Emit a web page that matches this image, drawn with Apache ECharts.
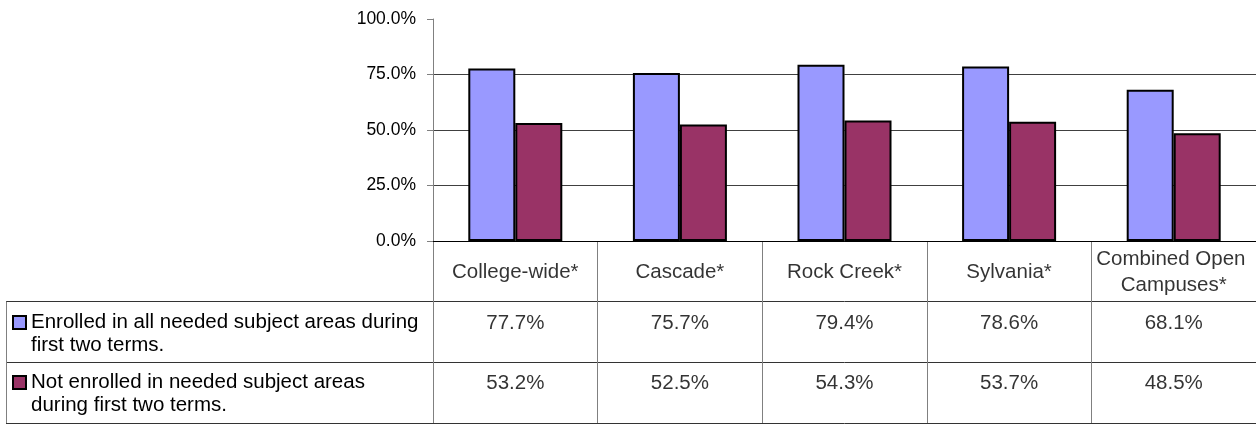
<!DOCTYPE html>
<html>
<head>
<meta charset="utf-8">
<script src="https://cdn.jsdelivr.net/npm/echarts@6/dist/echarts.min.js"></script>
<style>
  html, body { margin: 0; padding: 0; background: #fff; }
  #chart { width: 1256px; height: 424px; }
</style>
</head>
<body>
<div id="chart"></div>
<script>
const categories = ['College-wide*', 'Cascade*', 'Rock Creek*', 'Sylvania*', 'Combined Open Campuses*'];
const seriesNames = [
  'Enrolled in all needed subject areas during first two terms.',
  'Not enrolled in needed subject areas during first two terms.'
];
// legend labels as they wrap in the table's first column
const legendLabels = [
  'Enrolled in all needed subject areas during\nfirst two terms.',
  'Not enrolled in needed subject areas\nduring first two terms.'
];
const enrolled = [77.7, 75.7, 79.4, 78.6, 68.1];
const notEnrolled = [53.2, 52.5, 54.3, 53.7, 48.5];
const yMin = 0, yMax = 100, yInterval = 25;
const tableRows = ['header', 'row1', 'row2'];
const legendRows = ['row1', 'row2'];

const FONT = "'Liberation Sans', Arial, sans-serif";
const TABLE_FS = 20.5;
const colors = ['#9999FF', '#993366'];

const headerCells = categories.map((c, i) => [i, 'header', c]);
const valueCells = [];
enrolled.forEach((v, i) => valueCells.push([i, 'row1', v.toFixed(1) + '%']));
notEnrolled.forEach((v, i) => valueCells.push([i, 'row2', v.toFixed(1) + '%']));

const chart = echarts.init(document.getElementById('chart'), null, { renderer: 'canvas' });

const legendCommon = {
  orient: 'vertical',
  left: 12,
  padding: 0,
  itemWidth: 13,
  itemHeight: 13,
  itemGap: 0,
  icon: 'rect',
  selectedMode: false,
  formatter: name => '\n' + legendLabels[seriesNames.indexOf(name)],
  textStyle: {
    fontFamily: FONT, fontSize: TABLE_FS, color: '#000', lineHeight: 23
  }
};

chart.setOption({
  animation: false,
  backgroundColor: '#fff',
  textStyle: { fontFamily: FONT },
  legend: [
    Object.assign({}, legendCommon, { data: [seriesNames[0]], top: 288 }),
    Object.assign({}, legendCommon, { data: [seriesNames[1]], top: 348 })
  ],
  grid: [
    { left: 433, right: 0, top: 19, height: 222 },
    { left: 433, right: 0, top: 241, height: 182 },
    { left: 6, width: 427, top: 241 + 182 / 3, height: 182 * 2 / 3 }
  ],
  xAxis: [
    {
      type: 'category', gridIndex: 0, data: categories,
      axisLine: { lineStyle: { color: '#000', width: 1 } },
      axisTick: { show: false }, axisLabel: { show: false }, splitLine: { show: false }
    },
    {
      type: 'category', gridIndex: 1, data: categories,
      axisLine: { show: false }, axisTick: { show: false },
      axisLabel: { show: false, interval: 0 },
      splitLine: { show: true, interval: 0, lineStyle: { color: '#808080', width: 1 } }
    },
    {
      type: 'category', gridIndex: 2, data: ['legend'],
      axisLine: { show: false }, axisTick: { show: false },
      axisLabel: { show: false, interval: 0 },
      splitLine: { show: true, interval: 0, lineStyle: { color: '#808080', width: 1 } }
    }
  ],
  yAxis: [
    {
      type: 'value', gridIndex: 0, min: yMin, max: yMax, interval: yInterval,
      axisLine: { show: true, lineStyle: { color: '#808080', width: 1 } },
      axisTick: { show: true, length: 6, lineStyle: { color: '#808080' } },
      axisLabel: {
        color: '#000', fontSize: 17.5, fontFamily: FONT, margin: 17,
        formatter: v => v.toFixed(1) + '%'
      },
      splitLine: {
        show: true,
        lineStyle: { color: ['#000', '#404040', '#404040', '#404040', 'rgba(0,0,0,0)'], width: 1 }
      }
    },
    {
      type: 'category', gridIndex: 1, data: tableRows, inverse: true,
      axisLine: { show: false }, axisTick: { show: false },
      axisLabel: { show: false, interval: 0 },
      splitLine: { show: true, interval: 0, lineStyle: { color: '#333', width: 1 } }
    },
    {
      type: 'category', gridIndex: 2, data: legendRows, inverse: true,
      axisLine: { show: false }, axisTick: { show: false },
      axisLabel: { show: false, interval: 0 },
      splitLine: { show: true, interval: 0, lineStyle: { color: '#333', width: 1 } }
    }
  ],
  series: [
    {
      name: seriesNames[0], type: 'bar', xAxisIndex: 0, yAxisIndex: 0,
      data: enrolled, barWidth: 47, barGap: '0%',
      itemStyle: { color: colors[0], borderColor: '#000', borderWidth: 2 }
    },
    {
      name: seriesNames[1], type: 'bar', xAxisIndex: 0, yAxisIndex: 0,
      data: notEnrolled, barWidth: 47, barGap: '0%',
      itemStyle: { color: colors[1], borderColor: '#000', borderWidth: 2 }
    },
    {
      name: 'headerCells', type: 'scatter', xAxisIndex: 1, yAxisIndex: 1,
      data: headerCells, symbolSize: 0, silent: true,
      label: {
        show: true, position: 'inside', color: '#000', fontSize: TABLE_FS, fontFamily: FONT,
        width: 158, overflow: 'break', lineHeight: 26, align: 'center',
        offset: [0, 1],
        formatter: p => p.data[2]
      }
    },
    {
      name: 'valueCells', type: 'scatter', xAxisIndex: 1, yAxisIndex: 1,
      data: valueCells, symbolSize: 0, silent: true,
      label: {
        show: true, position: 'inside', color: '#000', fontSize: TABLE_FS, fontFamily: FONT,
        offset: [0, -9],
        formatter: p => p.data[2]
      }
    }
  ]
});
</script>
</body>
</html>
